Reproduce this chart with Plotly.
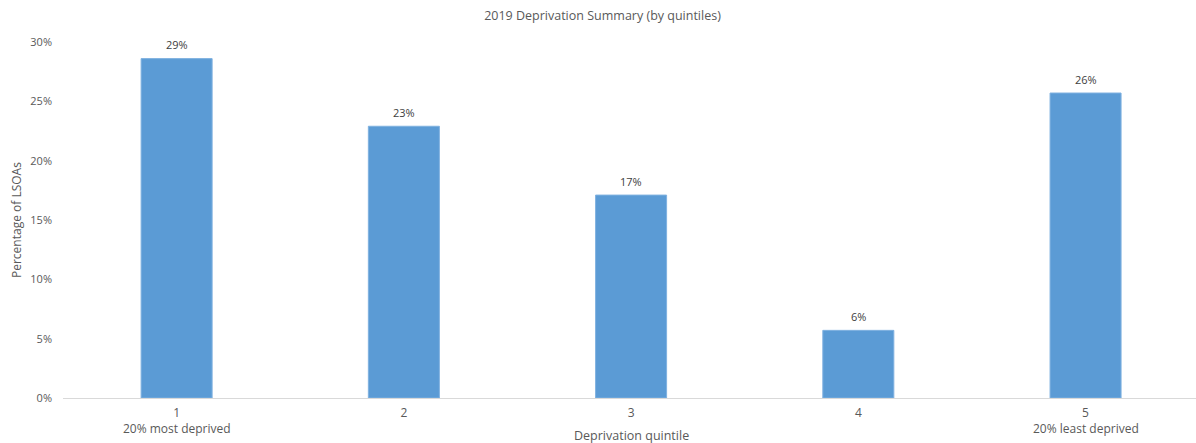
import plotly.graph_objects as go

# Share of LSOAs falling in each national deprivation quintile (2019)
quintiles = ["1", "2", "3", "4", "5"]
quintile_notes = ["20% most deprived", "", "", "", "20% least deprived"]
share_of_lsoas = [0.286, 0.229, 0.171, 0.057, 0.257]
y_ticks = [0, 0.05, 0.10, 0.15, 0.20, 0.25, 0.30]

FONT = "Open Sans"
GREY = "#595959"
PLOT_H = 356  # plot-area height in pixels

fig = go.Figure(
    go.Bar(
        x=quintiles,
        y=share_of_lsoas,
        marker=dict(color="#5B9BD5", line=dict(color="#7FB1E0", width=1)),
        hoverinfo="x+y",
    )
)

annotations = []
# Value labels above each bar (category axis: annotation x is the category index)
for i, v in enumerate(share_of_lsoas):
    annotations.append(dict(
        x=i, y=v, xref="x", yref="y",
        text=f"{v:.0%}", showarrow=False,
        yanchor="middle", yshift=14,
        font=dict(family=FONT, size=11, color="#404040"),
    ))
# Second line under the first and last quintile ticks
for i, note in enumerate(quintile_notes):
    if note:
        annotations.append(dict(
            x=i, y=-(428 - 398) / PLOT_H, xref="x", yref="paper",
            text=note, showarrow=False, yanchor="middle",
            font=dict(family=FONT, size=12, color=GREY),
        ))
annotations += [
    dict(
        text="Deprivation quintile",
        xref="paper", yref="paper",
        x=(631.5 - 63) / 1133, y=-(435.5 - 398) / PLOT_H,
        xanchor="center", yanchor="middle",
        showarrow=False,
        font=dict(family=FONT, size=12.5, color=GREY),
    ),
    dict(
        text="Percentage of LSOAs",
        xref="paper", yref="paper",
        x=-(63 - 16) / 1133, y=0.5,
        xanchor="center", yanchor="middle",
        textangle=-90,
        showarrow=False,
        font=dict(family=FONT, size=12, color=GREY),
    ),
]

fig.update_layout(
    width=1196,
    height=443,
    margin=dict(l=63, r=0, t=42, b=45),
    paper_bgcolor="white",
    plot_bgcolor="white",
    bargap=0.6875,
    showlegend=False,
    font=dict(family=FONT, size=11, color=GREY),
    title=dict(
        text="2019 Deprivation Summary (by quintiles)",
        x=602.5 / 1196,
        xanchor="center",
        y=1 - 16 / 443,
        yanchor="middle",
        font=dict(family=FONT, size=12.5, color=GREY),
    ),
    xaxis=dict(
        type="category",
        range=[-0.5, 4.486],
        tickmode="array",
        tickvals=quintiles,
        ticktext=quintiles,
        showline=True,
        linecolor="#D9D9D9",
        linewidth=1,
        showgrid=False,
        ticks="",
        ticklabelstandoff=4,
        tickfont=dict(family=FONT, size=12, color=GREY),
        automargin=False,
        fixedrange=True,
    ),
    yaxis=dict(
        range=[0, 0.30],
        tickvals=y_ticks,
        tickformat=".0%",
        showgrid=False,
        showline=False,
        zeroline=False,
        ticks="",
        ticklabelstandoff=10,
        tickfont=dict(family=FONT, size=11, color=GREY),
        automargin=False,
    ),
    annotations=annotations,
)

fig.write_html("out.html")
